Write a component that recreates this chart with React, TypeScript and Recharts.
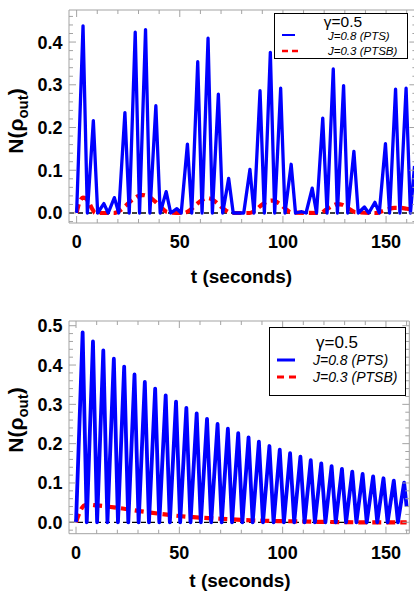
import React from 'react';
import { LineChart, Line, XAxis, YAxis, ReferenceLine } from 'recharts';

// ---------- upper panel: irregular revivals ----------
// zero crossings of the J=0.8 curve, one before each peak and one after the last
const troughTimesA = [
  0, 5.2, 10.2, 15.3, 20.4, 25.5, 30.5, 35.5, 40.5, 45.6, 50.7, 55.8, 60.8, 65.8, 70.8, 75.9, 81.0,
  86.0, 91.0, 96.0, 101.0, 106.1, 111.2, 116.3, 121.4, 126.4, 131.4, 136.5, 141.6, 146.7, 151.7, 156.7, 161.8,
];
const peakTimesA = [
  3.1, 8.1, 13.2, 18.3, 23.4, 28.4, 33.4, 38.4, 43.4, 48.6, 53.7, 58.7, 63.7, 68.7, 73.7, 78.8,
  84.0, 88.9, 93.9, 98.9, 104.0, 109.1, 114.2, 119.3, 124.4, 129.4, 134.4, 139.5, 144.6, 149.7, 154.6, 159.7,
];
const peakValuesA = [
  0.438, 0.216, 0.022, 0.036, 0.235, 0.423, 0.429, 0.251, 0.05, 0.01, 0.161, 0.354, 0.409, 0.278, 0.081, 0.0,
  0.102, 0.286, 0.376, 0.292, 0.114, 0.003, 0.058, 0.222, 0.337, 0.298, 0.144, 0.014, 0.025, 0.162, 0.29, 0.292,
];
const tailA = { t: 163.8, v: 0.11 };

const redTimesA = [
  0, 1, 2, 3, 4.5, 6, 7.5, 9, 18, 21, 24, 27, 30, 32, 35, 38, 41, 44, 52, 55, 58, 61, 63, 66, 69, 72, 75,
  84, 87, 90, 93, 95, 98, 101, 104, 118, 121, 124, 126.5, 129, 132, 135, 145, 148, 151, 154, 157, 160, 164,
];
const redValuesA = [
  0, 0.02, 0.031, 0.036, 0.034, 0.024, 0.01, 0, 0, 0.006, 0.018, 0.031, 0.04, 0.042, 0.038, 0.027, 0.013, 0.002,
  0, 0.007, 0.02, 0.031, 0.035, 0.031, 0.019, 0.007, 0, 0, 0.008, 0.02, 0.028, 0.029, 0.023, 0.011, 0.001,
  0, 0.008, 0.017, 0.021, 0.019, 0.01, 0.002, 0, 0.004, 0.009, 0.012, 0.012, 0.01, 0.008,
];

// ---------- lower panel: damped oscillation ----------
const troughTimesB = [
  0, 5.2, 10.2, 15.2, 20.3, 25.3, 30.3, 35.3, 40.3, 45.4, 50.4, 55.4, 60.4, 65.4, 70.5, 75.5, 80.5,
  85.5, 90.5, 95.6, 100.6, 105.6, 110.6, 115.6, 120.7, 125.7, 130.7, 135.7, 140.7, 145.8, 150.8, 155.8,
];
const peakTimesB = [
  3.2, 8.2, 13.2, 18.3, 23.3, 28.3, 33.3, 38.3, 43.4, 48.4, 53.4, 58.4, 63.4, 68.5, 73.5, 78.5,
  83.5, 88.5, 93.6, 98.6, 103.6, 108.6, 113.6, 118.7, 123.7, 128.7, 133.7, 138.7, 143.8, 148.8, 153.8, 158.8,
];
const peakValuesB = [
  0.483, 0.46, 0.437, 0.416, 0.396, 0.376, 0.357, 0.34, 0.323, 0.307, 0.291, 0.277, 0.263, 0.25, 0.238, 0.227,
  0.216, 0.205, 0.194, 0.185, 0.176, 0.167, 0.158, 0.15, 0.143, 0.136, 0.129, 0.123, 0.117, 0.112, 0.106, 0.101,
];
const tailB = { t: 160, v: 0.04 };

const redTimesB = [0, 1.5, 3, 4.5, 6, 10, 20, 30, 40, 50, 60, 70, 80, 90, 100, 120, 140, 160];
const redValuesB = [0, 0.022, 0.038, 0.044, 0.045, 0.043, 0.037, 0.029, 0.022, 0.016, 0.012, 0.009, 0.006, 0.004, 0.003, 0.001, 0, 0];

// ---------- ticks ----------
const xTicks = [0, 10, 20, 30, 40, 50, 60, 70, 80, 90, 100, 110, 120, 130, 140, 150, 160];
const yTicksA = [
  -0.02, 0, 0.02, 0.04, 0.06, 0.08, 0.1, 0.12, 0.14, 0.16, 0.18, 0.2, 0.22, 0.24, 0.26, 0.28, 0.3,
  0.32, 0.34, 0.36, 0.38, 0.4, 0.42, 0.44, 0.46,
];
const yTicksB = [...yTicksA, 0.48, 0.5];

const FONT = '"Liberation Sans", Arial, sans-serif';
const FRAME = '#a3a3a3';
const BLUE = '#0000ff';
const RED = '#ff0000';

type Pt = { t: number; v: number };

const spikeSeries = (troughs: number[], peaks: number[], values: number[], tail: Pt): Pt[] => {
  const pts: Pt[] = [];
  peaks.forEach((p, i) => {
    pts.push({ t: troughs[i], v: 0 });
    pts.push({ t: p, v: values[i] });
  });
  if (troughs.length > peaks.length) pts.push({ t: troughs[peaks.length], v: 0 });
  pts.push(tail);
  return pts;
};

const zip = (ts: number[], vs: number[]): Pt[] => ts.map((t, i) => ({ t, v: vs[i] }));

const isMajorX = (v: number) => v % 50 === 0;
const isMajorY = (v: number) => Math.abs(v * 10 - Math.round(v * 10)) < 1e-6;

const BottomTick = (props: any) => {
  const { x, y, payload } = props;
  const major = isMajorX(payload.value);
  return (
    <g>
      <line x1={x} x2={x} y1={y} y2={y - (major ? 7 : 4)} stroke={FRAME} />
      {major && (
        <text x={x} y={y + 25} textAnchor="middle" fontSize={18} fontWeight="bold" fontFamily={FONT} fill="#000">
          {payload.value}
        </text>
      )}
    </g>
  );
};

const TopTick = (props: any) => {
  const { x, y, payload } = props;
  const major = isMajorX(payload.value);
  return <line x1={x} x2={x} y1={y} y2={y + (major ? 7 : 4)} stroke={FRAME} />;
};

const LeftTick = (props: any) => {
  const { x, y, payload } = props;
  const major = isMajorY(payload.value);
  return (
    <g>
      <line x1={x} x2={x + (major ? 7 : 4)} y1={y} y2={y} stroke={FRAME} />
      {major && payload.value >= 0 && (
        <text x={x - 6.5} y={y} dy="0.36em" textAnchor="end" fontSize={18} fontWeight="bold" fontFamily={FONT} fill="#000">
          {payload.value.toFixed(1)}
        </text>
      )}
    </g>
  );
};

const RightTick = (props: any) => {
  const { x, y, payload } = props;
  const major = isMajorY(payload.value);
  return <line x1={x} x2={x - (major ? 7 : 4)} y1={y} y2={y} stroke={FRAME} />;
};

const XTitle = ({ cx, baseline }: { cx: number; baseline: number }) => (
  <text x={cx} y={baseline} textAnchor="middle" fontSize={19} fontWeight="bold" fontFamily={FONT} fill="#000">
    t (seconds)
  </text>
);

const YTitle = ({ bx, cy }: { bx: number; cy: number }) => (
  <text
    x={bx}
    y={cy}
    transform={`rotate(-90, ${bx}, ${cy})`}
    textAnchor="middle"
    fontSize={21}
    fontWeight="bold"
    fontFamily={FONT}
    fill="#000"
  >
    N(ρ
    <tspan fontSize={15} dy={5}>out</tspan>
    <tspan dy={-5}>)</tspan>
  </text>
);

interface PanelProps {
  top: number;
  width: number;
  height: number;
  // plot-area box in the chart's own pixels
  margin: { top: number; right: number; bottom: number; left: number };
  xDomain: [number, number];
  yDomain: [number, number];
  yTicks: number[];
  blue: Pt[];
  red: Pt[];
  blueWidth: number;
  xTitle: { cx: number; baseline: number };
  yTitle: { bx: number; cy: number };
}

// axes are 1px thick (a 0px axis is not drawn), so margins give up 1px each side
const Panel: React.FC<PanelProps> = ({
  top, width, height, margin, xDomain, yDomain, yTicks, blue, red, blueWidth, xTitle, yTitle,
}) => (
  <div style={{ position: 'absolute', left: 0, top }}>
    <LineChart
      width={width}
      height={height}
      margin={{ top: margin.top - 1, right: margin.right - 1, bottom: margin.bottom - 1, left: margin.left - 1 }}
    >
      <XAxis
        xAxisId="b"
        type="number"
        dataKey="t"
        domain={xDomain}
        allowDataOverflow
        ticks={xTicks}
        interval={0}
        height={1}
        tickSize={0}
        tickMargin={0}
        tickLine={false}
        stroke={FRAME}
        tick={<BottomTick />}
        label={<XTitle {...xTitle} />}
      />
      <XAxis
        xAxisId="t"
        orientation="top"
        type="number"
        dataKey="t"
        domain={xDomain}
        allowDataOverflow
        ticks={xTicks}
        interval={0}
        height={1}
        tickSize={0}
        tickMargin={0}
        tickLine={false}
        stroke={FRAME}
        tick={<TopTick />}
      />
      <YAxis
        yAxisId="l"
        type="number"
        domain={yDomain}
        allowDataOverflow
        ticks={yTicks}
        interval={0}
        width={1}
        tickSize={0}
        tickMargin={0}
        tickLine={false}
        stroke={FRAME}
        tick={<LeftTick />}
        label={<YTitle {...yTitle} />}
      />
      <YAxis
        yAxisId="r"
        orientation="right"
        type="number"
        domain={yDomain}
        allowDataOverflow
        ticks={yTicks}
        interval={0}
        width={1}
        tickSize={0}
        tickMargin={0}
        tickLine={false}
        stroke={FRAME}
        tick={<RightTick />}
      />
      <ReferenceLine xAxisId="b" yAxisId="l" y={0} stroke="#000" strokeWidth={1.3} strokeDasharray="5 4" />
      <Line
        xAxisId="b"
        yAxisId="l"
        data={red}
        dataKey="v"
        type="monotone"
        stroke={RED}
        strokeWidth={4.2}
        strokeDasharray="9 5"
        dot={false}
        isAnimationActive={false}
      />
      <Line
        xAxisId="b"
        yAxisId="l"
        data={blue}
        dataKey="v"
        type="linear"
        stroke={BLUE}
        strokeWidth={blueWidth}
        strokeLinejoin="round"
        dot={false}
        isAnimationActive={false}
      />
    </LineChart>
  </div>
);

const LegendBox = ({
  left, top, width, height, gamma, rows,
}: {
  left: number; top: number; width: number; height: number;
  gamma: { x: number; y: number; size: number };
  rows: { label: string; color: string; dash?: string; sw: number; x1: number; x2: number; y: number; tx: number; ty: number; size: number }[];
}) => (
  <svg style={{ position: 'absolute', left, top }} width={width} height={height}>
    <rect x={0.5} y={0.5} width={width - 1} height={height - 1} fill="#fff" stroke="#000" strokeWidth={1} />
    <text x={gamma.x} y={gamma.y} textAnchor="middle" fontSize={gamma.size} fontFamily={FONT} fill="#000">
      γ=0.5
    </text>
    {rows.map((r) => (
      <g key={r.label}>
        <line x1={r.x1} x2={r.x2} y1={r.y} y2={r.y} stroke={r.color} strokeWidth={r.sw} strokeDasharray={r.dash} />
        <text x={r.tx} y={r.ty} fontSize={r.size} fontStyle="italic" fontFamily={FONT} fill="#000">
          {r.label}
        </text>
      </g>
    ))}
  </svg>
);

export default function App() {
  const blueA = spikeSeries(troughTimesA, peakTimesA, peakValuesA, tailA);
  const blueB = spikeSeries(troughTimesB, peakTimesB, peakValuesB, tailB);
  const redA = zip(redTimesA, redValuesA);
  const redB = zip(redTimesB, redValuesB);

  return (
    <div style={{ position: 'absolute', left: 0, top: 0, width: 414, height: 592, overflow: 'hidden', background: '#fff' }}>
      <Panel
        top={0}
        width={432}
        height={290}
        margin={{ top: 10, left: 69, right: 15.6, bottom: 67 }}
        xDomain={[-3.7, 164.7]}
        yDomain={[-0.0234, 0.475]}
        yTicks={yTicksA}
        blue={blueA}
        red={redA}
        blueWidth={3.3}
        xTitle={{ cx: 241.5, baseline: 283 }}
        yTitle={{ bx: 23, cy: 121 }}
      />
      <Panel
        top={290}
        width={414}
        height={302}
        margin={{ top: 31, left: 69, right: 4.7, bottom: 58.3 }}
        xDomain={[-3.4, 161.3]}
        yDomain={[-0.029, 0.512]}
        yTicks={yTicksB}
        blue={blueB}
        red={redB}
        blueWidth={3.8}
        xTitle={{ cx: 240, baseline: 296.5 }}
        yTitle={{ bx: 23, cy: 130 }}
      />
      <LegendBox
        left={274}
        top={13}
        width={134}
        height={46}
        gamma={{ x: 69, y: 14, size: 15.5 }}
        rows={[
          { label: 'J=0.8 (PTS)', color: BLUE, sw: 2, x1: 8, x2: 21, y: 22, tx: 54, ty: 27, size: 11.5 },
          { label: 'J=0.3 (PTSB)', color: RED, sw: 2.5, dash: '6 4', x1: 8, x2: 26, y: 38, tx: 54, ty: 42, size: 11.5 },
        ]}
      />
      <LegendBox
        left={269}
        top={327}
        width={137}
        height={69}
        gamma={{ x: 68, y: 21, size: 17 }}
        rows={[
          { label: 'J=0.8 (PTS)', color: BLUE, sw: 3, x1: 8, x2: 26, y: 33, tx: 44, ty: 38, size: 14 },
          { label: 'J=0.3 (PTSB)', color: RED, sw: 3, dash: '7 5', x1: 8, x2: 28, y: 50, tx: 44, ty: 55, size: 14 },
        ]}
      />
    </div>
  );
}
